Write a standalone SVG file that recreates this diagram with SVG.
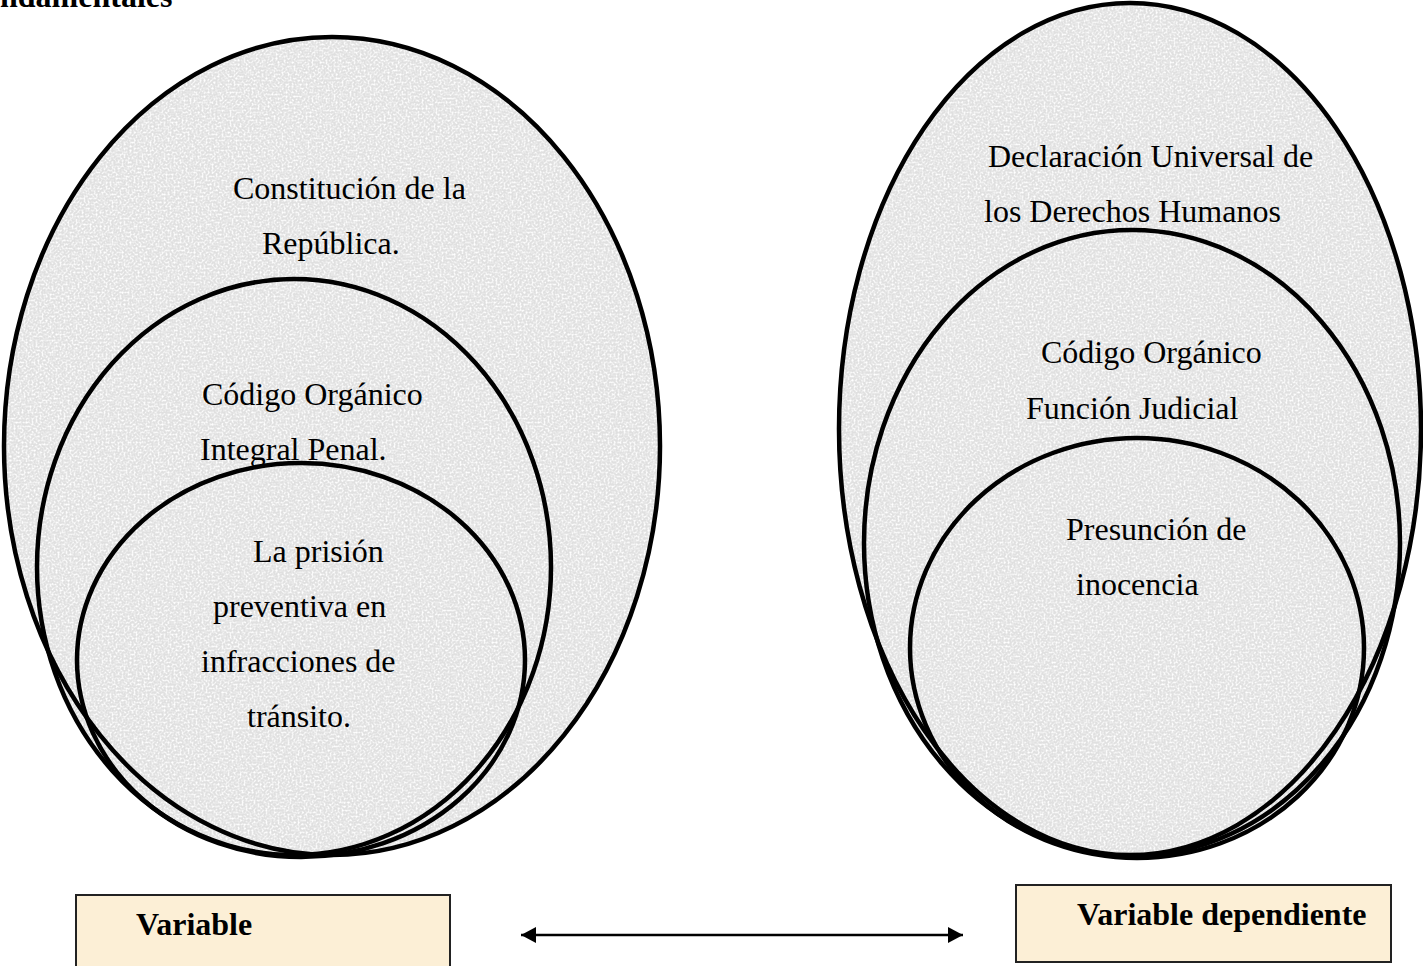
<svg xmlns="http://www.w3.org/2000/svg" width="1423" height="966" viewBox="0 0 1423 966">
  <style>
    .fill { fill: #e0e0e0; }
    .ring { fill: none; stroke: #000; stroke-width: 4.5; }
    .lbl { font-family: "Liberation Serif", "Times New Roman", serif; font-size: 32px; fill: #000; }
    .bold { font-family: "Liberation Serif", "Times New Roman", serif; font-size: 32px; font-weight: bold; fill: #000; }
    .box { fill: #fcefd6; stroke: #222; stroke-width: 2; }
    .conn { stroke: #000; stroke-width: 2.5; fill: none; }
  </style>
  <defs>
    <filter id="grain" x="0" y="0" width="100%" height="100%" color-interpolation-filters="sRGB">
      <feTurbulence type="fractalNoise" baseFrequency="0.5" numOctaves="2" seed="7" result="n"/>
      <feColorMatrix in="n" type="matrix" values="0 0 0 0 1  0 0 0 0 1  0 0 0 0 1  0 0 0 -2.6 1.55" result="w"/>
      <feComposite in="w" in2="SourceAlpha" operator="in" result="wc"/>
      <feMerge><feMergeNode in="SourceGraphic"/><feMergeNode in="wc"/></feMerge>
    </filter>
    <marker id="ah" viewBox="0 0 15 16" refX="15" refY="8" markerWidth="15" markerHeight="16" markerUnits="userSpaceOnUse" orient="auto-start-reverse">
      <path d="M0,0 L15,8 L0,16 Z" fill="#000"/>
    </marker>
  </defs>
  <rect width="1423" height="966" fill="#fff"/>

  <text id="title" class="bold" x="0" y="7" font-size="33">ndamentales</text>

  <g id="left-fills" filter="url(#grain)">
    <ellipse class="fill" cx="332" cy="446" rx="328" ry="409"/>
    <ellipse class="fill" cx="294" cy="567" rx="257" ry="288"/>
    <ellipse class="fill" cx="301" cy="660" rx="224" ry="197"/>
  </g>
  <g id="right-fills" filter="url(#grain)">
    <ellipse class="fill" cx="1130" cy="429" rx="291" ry="426"/>
    <ellipse class="fill" cx="1132" cy="543" rx="268" ry="313"/>
    <ellipse class="fill" cx="1137" cy="648" rx="227" ry="210"/>
  </g>

  <g id="constitucion">
    <ellipse class="ring" cx="332" cy="446" rx="328" ry="409"/>
    <text class="lbl" x="233" y="199">Constitución de la</text>
    <text class="lbl" x="262" y="254">República.</text>
  </g>
  <g id="coip">
    <ellipse class="ring" cx="294" cy="567" rx="257" ry="288"/>
    <text class="lbl" x="202" y="405">Código Orgánico</text>
    <text class="lbl" x="200" y="460">Integral Penal.</text>
  </g>
  <g id="prision">
    <ellipse class="ring" cx="301" cy="660" rx="224" ry="197"/>
    <text class="lbl" x="253" y="562">La prisión</text>
    <text class="lbl" x="213" y="617">preventiva en</text>
    <text class="lbl" x="201" y="672">infracciones de</text>
    <text class="lbl" x="247" y="727">tránsito.</text>
  </g>

  <g id="declaracion">
    <ellipse class="ring" cx="1130" cy="429" rx="291" ry="426"/>
    <text class="lbl" x="988" y="167">Declaración Universal de</text>
    <text class="lbl" x="984" y="222">los Derechos Humanos</text>
  </g>
  <g id="cofj">
    <ellipse class="ring" cx="1132" cy="543" rx="268" ry="313"/>
    <text class="lbl" x="1041" y="363">Código Orgánico</text>
    <text class="lbl" x="1026" y="419">Función Judicial</text>
  </g>
  <g id="presuncion">
    <ellipse class="ring" cx="1137" cy="648" rx="227" ry="210"/>
    <text class="lbl" x="1066" y="540">Presunción de</text>
    <text class="lbl" x="1076" y="595">inocencia</text>
  </g>

  <g id="var-independiente">
    <rect class="box" x="76" y="895" width="374" height="90"/>
    <text class="bold" x="136" y="935">Variable</text>
  </g>
  <g id="var-dependiente">
    <rect class="box" x="1016" y="885" width="375" height="77"/>
    <text class="bold" x="1077" y="925">Variable dependiente</text>
  </g>

  <g id="connectors">
    <line class="conn" x1="521" y1="935" x2="963" y2="935" marker-start="url(#ah)" marker-end="url(#ah)"/>
  </g>
</svg>
